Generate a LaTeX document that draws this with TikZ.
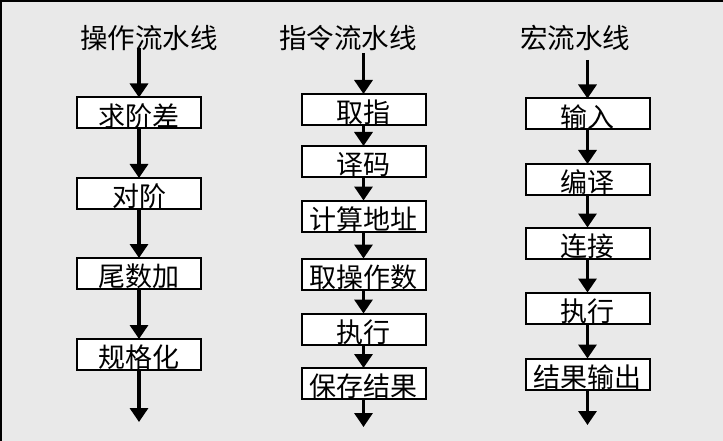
\documentclass[tikz,border=0pt]{standalone}
\usepackage{fontspec}
\newfontfamily\cjk{Noto Sans CJK SC}
\usetikzlibrary{arrows.meta}
\definecolor{bggray}{RGB}{233,233,233}
\begin{document}
\begin{tikzpicture}[x=1pt,y=-1pt,
  stepbox/.style={draw=black,line width=2pt,fill=white,minimum width=124pt,minimum height=31pt,inner sep=0pt,text height=26.6pt,text depth=0pt,font=\cjk\fontsize{27}{30}\selectfont},
  titlenode/.style={inner sep=0pt,font=\cjk\fontsize{27.5}{30}\selectfont},
  flow/.style={line width=3.3pt,-{Triangle[width=18pt,length=14pt]},shorten >=-1pt}]
\fill[bggray] (0,0) rectangle (723,441);
\useasboundingbox (0,0) rectangle (723,441);
\draw[line width=2pt] (1,441) -- (1,1) -- (723,1);
% titles
\node[titlenode] (t1) at (149,38) {操作流水线};
\node[titlenode] (t2) at (348,38) {指令流水线};
\node[titlenode] (t3) at (575,38) {宏流水线};
% column 1
\node[stepbox] (a1) at (139,113) {求阶差};
\node[stepbox] (a2) at (139,193.5) {对阶};
\node[stepbox] (a3) at (139,273.5) {尾数加};
\node[stepbox] (a4) at (139,354.5) {规格化};
\coordinate (s1) at (139,48);
\coordinate (e1) at (139,421);
\draw[flow] (s1) -- (a1.north);
\draw[flow] (a1) -- (a2);
\draw[flow] (a2) -- (a3);
\draw[flow] (a3) -- (a4);
\draw[flow] (a4.south) -- (e1);
% column 2
\node[stepbox] (b1) at (363.5,109.5) {取指};
\node[stepbox] (b2) at (363.5,161.5) {译码};
\node[stepbox] (b3) at (363.5,216) {计算地址};
\node[stepbox] (b4) at (363.5,274) {取操作数};
\node[stepbox] (b5) at (363.5,329) {执行};
\node[stepbox] (b6) at (363.5,383.5) {保存结果};
\coordinate (s2) at (363.5,53);
\coordinate (e2) at (363.5,426);
\draw[flow] (s2) -- (b1.north);
\draw[flow] (b1) -- (b2);
\draw[flow] (b2) -- (b3);
\draw[flow] (b3) -- (b4);
\draw[flow] (b4) -- (b5);
\draw[flow] (b5) -- (b6);
\draw[flow] (b6.south) -- (e2);
% column 3
\node[stepbox] (c1) at (587.5,114) {输入};
\node[stepbox] (c2) at (587.5,179.5) {编译};
\node[stepbox] (c3) at (587.5,243) {连接};
\node[stepbox] (c4) at (587.5,308) {执行};
\node[stepbox] (c5) at (587.5,374) {结果输出};
\coordinate (s3) at (587.5,60);
\coordinate (e3) at (587.5,424);
\draw[flow] (s3) -- (c1.north);
\draw[flow] (c1) -- (c2);
\draw[flow] (c2) -- (c3);
\draw[flow] (c3) -- (c4);
\draw[flow] (c4) -- (c5);
\draw[flow] (c5.south) -- (e3);
\end{tikzpicture}
\end{document}
